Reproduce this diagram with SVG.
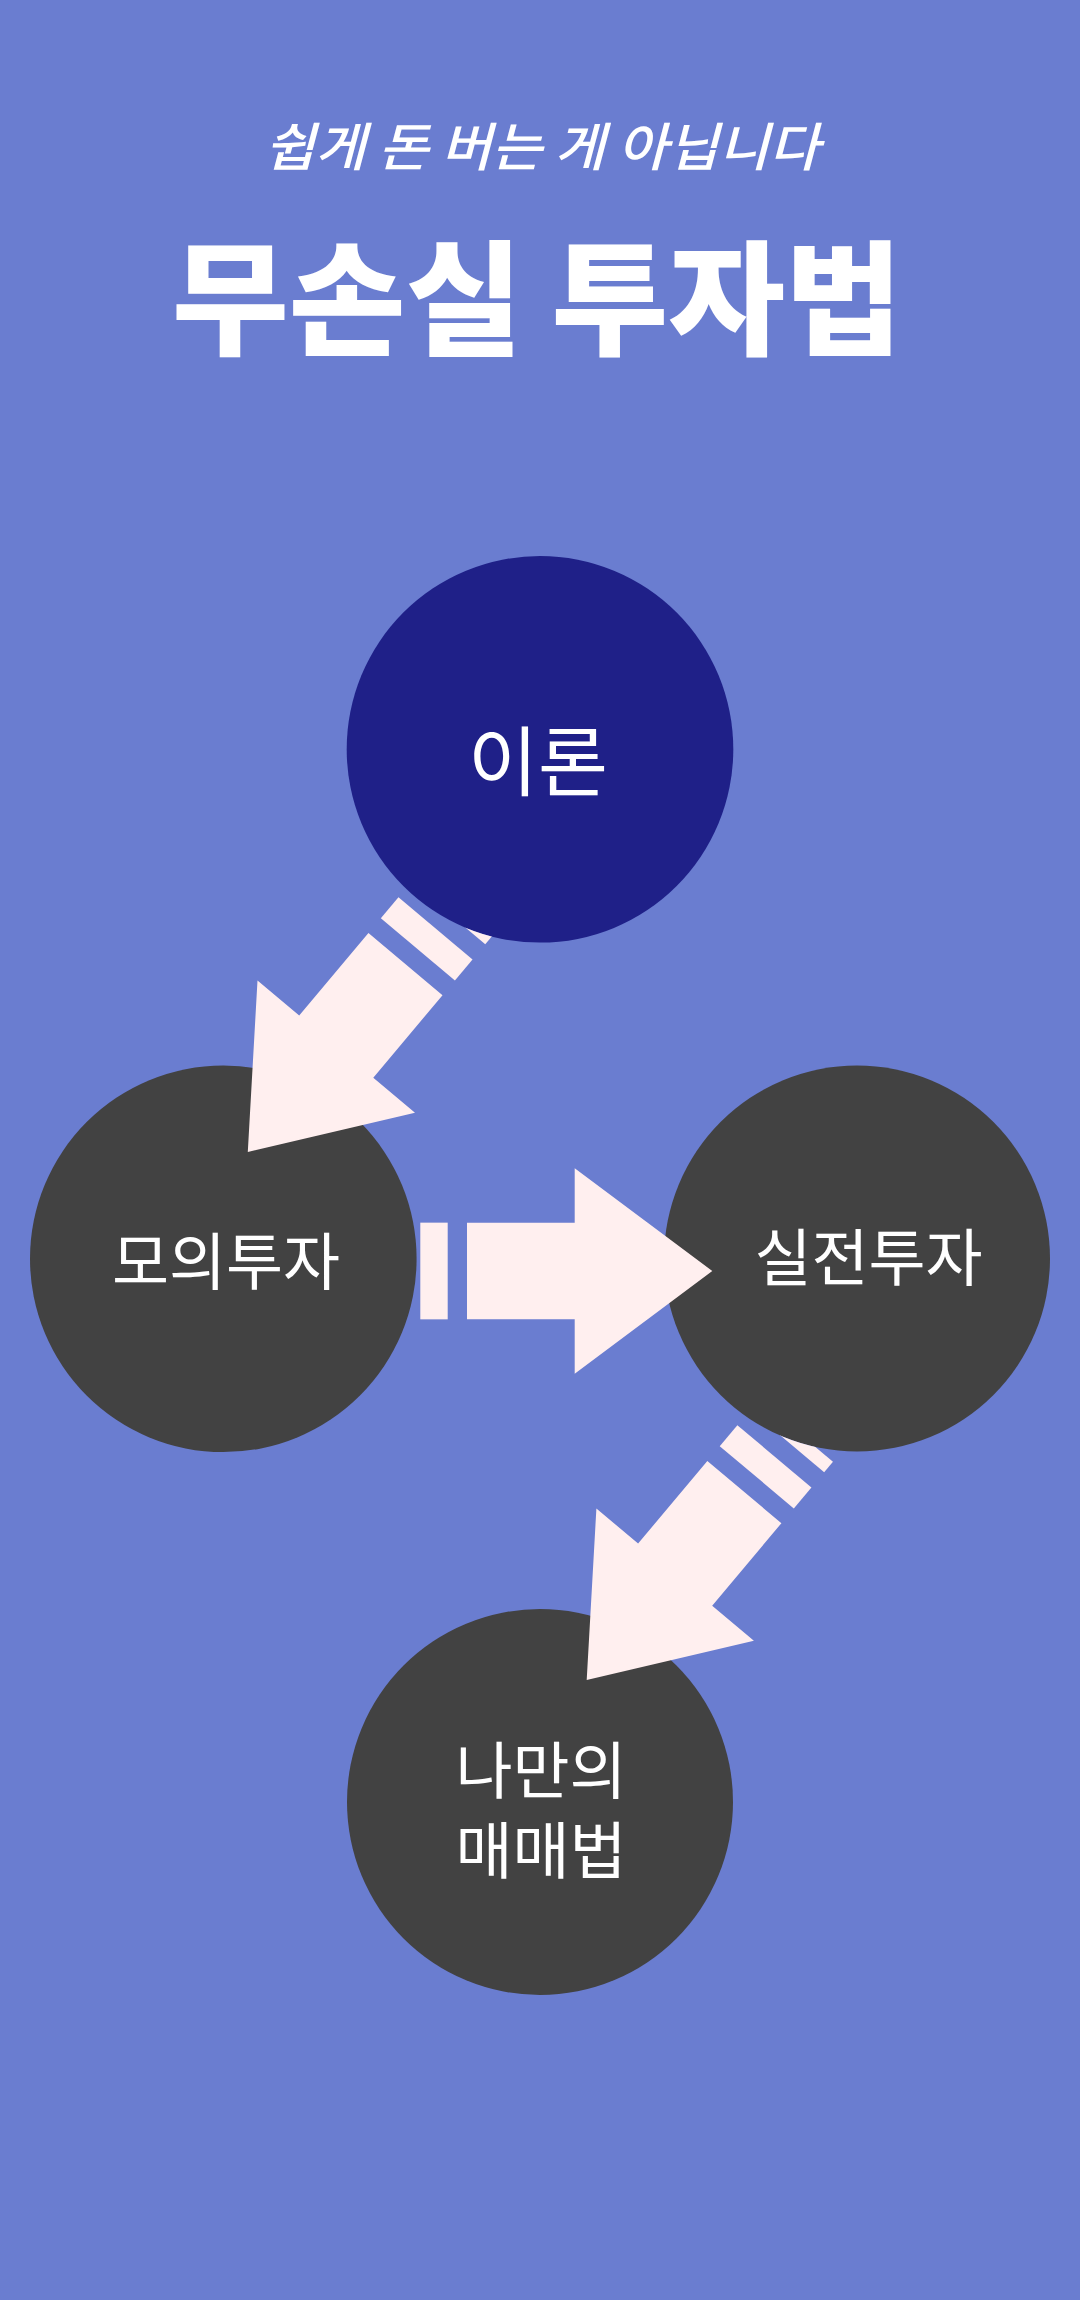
<svg xmlns="http://www.w3.org/2000/svg" width="1080" height="2300" viewBox="0 0 1080 2300">
  <style>
    .bg { fill: #6A7DD0; }
    .navy { fill: #1F2088; }
    .gray { fill: #424242; }
    .arrow { fill: #FFEFEF; }
    .label { fill: #FFFFFF; font-family: "Noto Sans CJK KR", "Noto Sans", sans-serif; font-weight: 400; text-anchor: middle; }
    .title { fill: #FFFFFF; font-family: "Noto Sans CJK KR", "Noto Sans", sans-serif; font-weight: 900; text-anchor: middle; }
    .sub { fill: #FFFFFF; font-family: "Noto Sans CJK KR", "Noto Sans", sans-serif; font-weight: 500; font-style: italic; text-anchor: middle; }
  </style>
  <defs>
    <path id="arrowBody" d="M0,0 L-137.6,-102.8 L-137.6,-48.35 L-245.3,-48.35 L-245.3,48.35 L-137.6,48.35 L-137.6,102.8 Z"/>
    <rect id="stripe1" x="-292" y="-48.35" width="27.4" height="96.7"/>
    <rect id="stripe0" x="-325.5" y="-48.35" width="13.7" height="96.7"/>
    <mask id="maskTop" maskUnits="userSpaceOnUse" x="0" y="0" width="1080" height="2300">
      <rect x="0" y="0" width="1080" height="2300" fill="#fff"/>
      <circle cx="540" cy="749.3" r="193.3" fill="#000"/>
    </mask>
    <mask id="maskLeft" maskUnits="userSpaceOnUse" x="0" y="0" width="1080" height="2300">
      <rect x="0" y="0" width="1080" height="2300" fill="#fff"/>
      <circle cx="223.3" cy="1258.8" r="193.3" fill="#000"/>
    </mask>
    <mask id="maskRight" maskUnits="userSpaceOnUse" x="0" y="0" width="1080" height="2300">
      <rect x="0" y="0" width="1080" height="2300" fill="#fff"/>
      <circle cx="857" cy="1258.5" r="193" fill="#000"/>
    </mask>
  </defs>

  <rect class="bg" x="0" y="0" width="1080" height="2300"/>

  <g id="header">
    <text class="sub" x="542" y="166" font-size="52" textLength="555" lengthAdjust="spacingAndGlyphs">쉽게 돈 버는 게 아닙니다</text>
    <text class="title" x="537" y="345" font-size="124" textLength="730" lengthAdjust="spacingAndGlyphs">무손실 투자법</text>
  </g>

  <g id="node-theory">
    <circle class="navy" cx="540" cy="749.3" r="193.3"/>
    <text class="label" x="538" y="790" font-size="76">이론</text>
  </g>
  <g id="node-mock">
    <circle class="gray" cx="223.3" cy="1258.8" r="193.3"/>
    <text class="label" x="226" y="1285" font-size="62">모의투자</text>
  </g>
  <g id="node-real">
    <circle class="gray" cx="857" cy="1258.5" r="193"/>
    <text class="label" x="868.5" y="1281" font-size="62">실전투자</text>
  </g>
  <g id="node-method">
    <circle class="gray" cx="540" cy="1802" r="193"/>
    <text class="label" font-size="62"><tspan x="541" y="1794">나만의</tspan><tspan x="541" y="1874">매매법</tspan></text>
  </g>

  <g id="connectors">
    <g id="arrow-theory-mock">
      <g mask="url(#maskTop)">
        <use href="#stripe0" class="arrow" transform="translate(247.8,1152) rotate(130)"/>
      </g>
      <g class="arrow" transform="translate(247.8,1152) rotate(130)">
        <use href="#stripe1"/>
        <use href="#arrowBody"/>
      </g>
    </g>
    <g id="arrow-mock-real">
      <g mask="url(#maskLeft)">
        <use href="#stripe0" class="arrow" transform="translate(712.3,1271)"/>
      </g>
      <g class="arrow" transform="translate(712.3,1271)">
        <use href="#stripe1"/>
        <use href="#arrowBody"/>
      </g>
    </g>
    <g id="arrow-real-method">
      <g mask="url(#maskRight)">
        <use href="#stripe0" class="arrow" transform="translate(586.7,1680) rotate(130)"/>
      </g>
      <g class="arrow" transform="translate(586.7,1680) rotate(130)">
        <use href="#stripe1"/>
        <use href="#arrowBody"/>
      </g>
    </g>
  </g>
</svg>
